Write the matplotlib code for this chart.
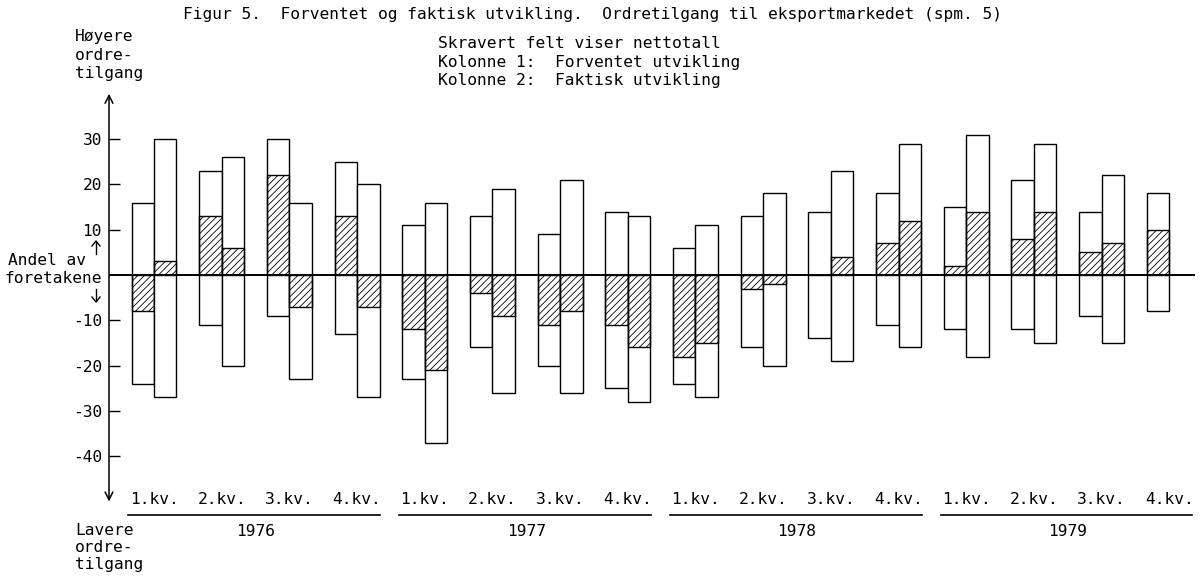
import numpy as np
import matplotlib.pyplot as plt
from matplotlib.transforms import blended_transform_factory

# Data (percent of firms)
quarters = ['1.kv.', '2.kv.', '3.kv.', '4.kv.']
years = ['1976', '1977', '1978', '1979']

# Kolonne 1: forventet utvikling
exp_up = [16, 23, 30, 25, 11, 13, 9, 14, 6, 13, 14, 18, 15, 21, 14, 18]
exp_down = [-24, -11, -9, -13, -23, -16, -20, -25, -24, -16, -14, -11, -12, -12, -9, -8]
exp_net = [-8, 13, 22, 13, -12, -4, -11, -11, -18, -3, 0, 7, 2, 8, 5, 10]

# Kolonne 2: faktisk utvikling (4.kv. 1979 missing)
act_up = [30, 26, 16, 20, 16, 19, 21, 13, 11, 18, 23, 29, 31, 29, 22, np.nan]
act_down = [-27, -20, -23, -27, -37, -26, -26, -28, -27, -20, -19, -16, -18, -15, -15, np.nan]
act_net = [3, 6, -7, -7, -21, -9, -8, -16, -15, -2, 4, 12, 14, 14, 7, np.nan]

yticks = [30, 20, 10, -10, -20, -30, -40]

plt.rcParams['font.family'] = 'DejaVu Sans Mono'
plt.rcParams['hatch.linewidth'] = 0.6
FS = 11.7

W, H = 1203, 581
fig = plt.figure(figsize=(W / 100, H / 100), dpi=100)
ax = fig.add_axes([109 / W, 1 - 501.5 / H, (1195 - 109) / W, (501.5 - 93.8) / H])

x = np.arange(len(exp_up))
bw = 0.332

def draw_col(xpos, up, down, net):
    up, down, net = map(np.asarray, (up, down, net))
    ok = ~np.isnan(up)
    ax.bar(xpos[ok], up[ok] - down[ok], bottom=down[ok], width=bw, align='edge',
           facecolor='white', edgecolor='black', linewidth=1.0)
    ax.bar(xpos[ok], net[ok], bottom=0, width=bw, align='edge',
           facecolor='none', edgecolor='black', hatch='/////', linewidth=1.0)

draw_col(x - bw, exp_up, exp_down, exp_net)
draw_col(x, act_up, act_down, act_net)

ax.axhline(0, color='black', linewidth=1.4, zorder=5)

ax.set_xlim(-0.665, 15.38)
ax.set_ylim(-50, 40)
for s in ax.spines.values():
    s.set_visible(False)
ax.annotate('', xy=(0, 1), xytext=(0, 0), xycoords='axes fraction',
            arrowprops=dict(arrowstyle='<->', lw=1.1, color='black',
                            mutation_scale=14, shrinkA=0, shrinkB=0))
ax.set_yticks(yticks)
ax.set_yticklabels([str(v) for v in yticks], fontsize=FS)
ax.tick_params(axis='y', direction='in', length=8, width=1.0, pad=5)
ax.set_xticks([])

# category labels under the plot
tr = blended_transform_factory(ax.transData, fig.transFigure)
def fy(py):
    return 1 - py / H

for i in x:
    ax.text(i, fy(500), quarters[i % 4], transform=tr, ha='center', va='center',
            fontsize=FS, clip_on=False)
for k, yr in enumerate(years):
    i0 = 4 * k
    ax.plot([i0 - 0.38, i0 + 3 + 0.34], [fy(515), fy(515)], transform=tr,
            color='black', lw=1.2, clip_on=False)
    ax.text(i0 + 1.5, fy(531), yr, transform=tr, ha='center', va='center',
            fontsize=FS, clip_on=False)

# axis side texts
fig.text(75 / W, fy(29), 'Høyere\nordre-\ntilgang', ha='left', va='top',
         fontsize=FS, linespacing=1.3)
fig.text(75 / W, fy(523), 'Lavere\nordre-\ntilgang', ha='left', va='top',
         fontsize=FS, linespacing=1.15)
fig.text(8 / W, fy(260), 'Andel av', ha='left', va='center', fontsize=FS)
fig.text(4 / W, fy(278), 'foretakene', ha='left', va='center', fontsize=FS)
# small up/down arrows beside the label
fig.add_artist(plt.Line2D([96 / W, 96 / W], [fy(254), fy(242)], color='black', lw=1.0))
fig.add_artist(plt.Line2D([92 / W, 96 / W, 100 / W], [fy(246), fy(241), fy(246)],
                          color='black', lw=1.0))
fig.add_artist(plt.Line2D([96 / W, 96 / W], [fy(289), fy(301)], color='black', lw=1.0))
fig.add_artist(plt.Line2D([92 / W, 96 / W, 100 / W], [fy(297), fy(302), fy(297)],
                          color='black', lw=1.0))

# title and key
fig.text(183 / W, fy(14), 'Figur 5.  Forventet og faktisk utvikling.  '
         'Ordretilgang til eksportmarkedet (spm. 5)', ha='left', va='center',
         fontsize=FS)
fig.text(438 / W, fy(36), 'Skravert felt viser nettotall\n'
         'Kolonne 1:  Forventet utvikling\n'
         'Kolonne 2:  Faktisk utvikling', ha='left', va='top',
         fontsize=FS, linespacing=1.3)

fig.savefig('out.png', dpi=100)
